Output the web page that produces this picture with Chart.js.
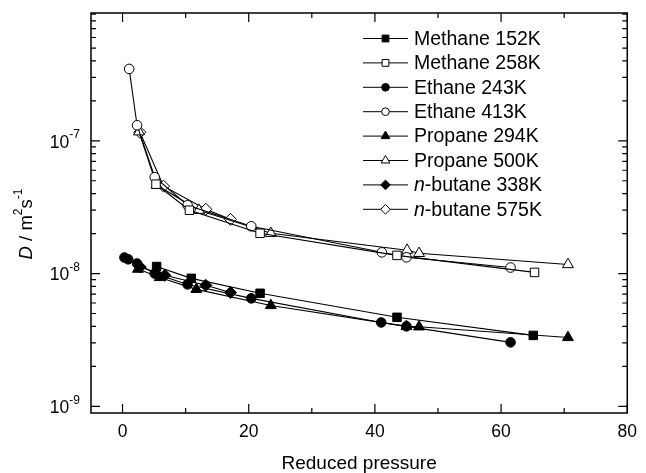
<!DOCTYPE html>
<html>
<head>
<meta charset="utf-8">
<script src="https://cdn.jsdelivr.net/npm/chart.js@4.4.1/dist/chart.umd.min.js"></script>
<style>
  html, body { margin: 0; padding: 0; background: #fff; }
  #wrap { width: 646px; height: 473px; }
</style>
</head>
<body>
<div id="wrap"><canvas id="diffusion"></canvas></div>
<script>
const FONT = '"Liberation Sans", Arial, Helvetica, sans-serif';

// self-diffusion coefficient D (m^2 s^-1) against reduced pressure
const methane152X = [5.4, 10.9, 21.8, 43.5, 65.1];
const methane152Y = [1.13e-8, 9.2e-9, 7.1e-9, 4.68e-9, 3.42e-9];
const methane258X = [5.3, 10.6, 21.8, 43.5, 65.3];
const methane258Y = [4.71e-8, 3.0e-8, 2.01e-8, 1.37e-8, 1.02e-8];
const ethane243X = [0.3, 0.9, 2.3, 5.1, 10.3, 20.4, 41.0, 45.0, 61.5];
const ethane243Y = [1.32e-8, 1.28e-8, 1.19e-8, 1.0e-8, 8.28e-9, 6.5e-9, 4.28e-9, 4.0e-9, 3.03e-9];
const ethane413X = [1.05, 2.3, 5.1, 10.3, 20.4, 41.1, 45.0, 61.5];
const ethane413Y = [3.48e-7, 1.31e-7, 5.32e-8, 3.27e-8, 2.27e-8, 1.445e-8, 1.325e-8, 1.11e-8];
const propane294X = [2.45, 5.9, 11.7, 23.5, 45.0, 47.0, 70.6];
const propane294Y = [1.08e-8, 9.35e-9, 7.6e-9, 5.75e-9, 4.0e-9, 3.97e-9, 3.3e-9];
const propane500X = [2.6, 5.4, 12.1, 23.5, 45.1, 47.0, 70.6];
const propane500Y = [1.17e-7, 4.64e-8, 3.0e-8, 2.01e-8, 1.5e-8, 1.42e-8, 1.17e-8];
const butane338X = [2.8, 6.7, 13.2, 17.1];
const butane338Y = [1.12e-8, 9.7e-9, 8.15e-9, 7.2e-9];
const butane575X = [2.75, 6.5, 13.2, 17.1];
const butane575Y = [1.16e-7, 4.55e-8, 3.05e-8, 2.56e-8];

const seriesLabels = ['Methane 152K', 'Methane 258K', 'Ethane 243K', 'Ethane 413K',
  'Propane 294K', 'Propane 500K', 'n-butane 338K', 'n-butane 575K'];

const xMajor = [0, 20, 40, 60, 80];
const xMinor = [10, 30, 50, 70];
const yMajor = [1e-9, 1e-8, 1e-7];
const yMinor = [];
[1e-9, 1e-8, 1e-7].forEach(d => { for (let m = 2; m <= 9; m++) yMinor.push(m * d); });

const zip = (xs, ys) => xs.map((x, i) => ({ x, y: ys[i] }));

function series(label, xs, ys, style, filled, r) {
  return {
    label,
    data: zip(xs, ys),
    showLine: true,
    borderColor: '#000',
    borderWidth: 1.1,
    pointStyle: style,
    pointRadius: r,
    pointBorderWidth: 1,
    pointBorderColor: '#000',
    pointBackgroundColor: filled ? '#000' : '#fff',
  };
}

const datasets = [
  series(seriesLabels[0], methane152X, methane152Y, 'rect', true, 6),
  series(seriesLabels[1], methane258X, methane258Y, 'rect', false, 6),
  series(seriesLabels[2], ethane243X, ethane243Y, 'circle', true, 4.8),
  series(seriesLabels[3], ethane413X, ethane413Y, 'circle', false, 4.8),
  series(seriesLabels[4], propane294X, propane294Y, 'triangle', true, 6.3),
  series(seriesLabels[5], propane500X, propane500Y, 'triangle', false, 6.3),
  series(seriesLabels[6], butane338X, butane338Y, 'rectRot', true, 6),
  series(seriesLabels[7], butane575X, butane575Y, 'rectRot', false, 6),
];

// frame, inward ticks on all four sides, 10^n labels and the rotated y title
const axisDecor = {
  id: 'axisDecor',
  afterDraw(chart) {
    const { ctx, chartArea: a, scales: { x, y } } = chart;
    ctx.save();
    ctx.strokeStyle = '#000';
    ctx.lineWidth = 1.5;
    ctx.strokeRect(a.left, a.top, a.right - a.left, a.bottom - a.top);

    ctx.lineWidth = 1.2;
    const tick = (px, len, horiz) => {
      ctx.beginPath();
      if (horiz) {
        ctx.moveTo(px, a.bottom); ctx.lineTo(px, a.bottom - len);
        ctx.moveTo(px, a.top); ctx.lineTo(px, a.top + len);
      } else {
        ctx.moveTo(a.left, px); ctx.lineTo(a.left + len, px);
        ctx.moveTo(a.right, px); ctx.lineTo(a.right - len, px);
      }
      ctx.stroke();
    };
    xMajor.forEach(v => tick(x.getPixelForValue(v), 9, true));
    xMinor.forEach(v => tick(x.getPixelForValue(v), 5, true));
    yMajor.forEach(v => tick(y.getPixelForValue(v), 9, false));
    yMinor.filter(v => v < y.max).forEach(v => tick(y.getPixelForValue(v), 5, false));

    ctx.fillStyle = '#000';
    ctx.textBaseline = 'middle';
    yMajor.forEach(v => {
      const py = y.getPixelForValue(v);
      const exp = String(Math.round(Math.log10(v)));
      ctx.font = '12px ' + FONT;
      ctx.textAlign = 'right';
      ctx.fillText(exp, 80, py - 6);
      const ew = ctx.measureText(exp).width;
      ctx.font = '17.5px ' + FONT;
      ctx.fillText('10', 80 - ew, py + 2);
    });

    // D / m2 s-1, written bottom to top
    const parts = [
      { t: 'D', f: 'italic 18.5px ', dy: 0 },
      { t: ' / m', f: '18.5px ', dy: 0 },
      { t: '2', f: '12px ', dy: -8 },
      { t: 's', f: '18.5px ', dy: 0 },
      { t: '-1', f: '12px ', dy: -8 },
    ];
    let total = 0;
    parts.forEach(p => { ctx.font = p.f + FONT; p.w = ctx.measureText(p.t).width; total += p.w; });
    ctx.translate(27, 224);
    ctx.rotate(-Math.PI / 2);
    ctx.textAlign = 'left';
    let cx = -total / 2;
    parts.forEach(p => {
      ctx.font = p.f + FONT;
      ctx.fillText(p.t, cx, p.dy);
      cx += p.w;
    });
    ctx.restore();
  }
};

// legend list in the upper right of the plot
const insideLegend = {
  id: 'insideLegend',
  afterDatasetsDraw(chart) {
    const { ctx } = chart;
    ctx.save();
    chart.data.datasets.forEach((ds, i) => {
      const y = 38.5 + i * 24.4;
      ctx.strokeStyle = '#000';
      ctx.lineWidth = 1;
      ctx.beginPath();
      ctx.moveTo(363, y);
      ctx.lineTo(408, y);
      ctx.stroke();
      ctx.fillStyle = ds.pointBackgroundColor;
      Chart.helpers.drawPoint(ctx, {
        pointStyle: ds.pointStyle, radius: ds.pointRadius * 0.8, rotation: 0, borderWidth: 1
      }, 385.5, y);

      ctx.fillStyle = '#000';
      ctx.textAlign = 'left';
      ctx.textBaseline = 'middle';
      let tx = 414;
      let text = ds.label;
      if (text.startsWith('n-')) {
        ctx.font = 'italic 19.5px ' + FONT;
        ctx.fillText('n', tx, y + 1);
        tx += ctx.measureText('n').width;
        text = text.slice(1);
      }
      ctx.font = '19.5px ' + FONT;
      ctx.fillText(text, tx, y + 1);
    });
    ctx.restore();
  }
};

new Chart(document.getElementById('diffusion'), {
  type: 'scatter',
  data: { datasets },
  options: {
    responsive: true,
    maintainAspectRatio: false,
    animation: false,
    layout: { padding: { top: 13, right: 12, left: 0, bottom: 0 } },
    plugins: {
      legend: { display: false },
      tooltip: { enabled: false },
    },
    scales: {
      x: {
        type: 'linear',
        min: -5,
        max: 80,
        grid: { display: false, drawTicks: false },
        border: { display: false },
        afterBuildTicks: s => { s.ticks = xMajor.map(v => ({ value: v })); },
        afterFit: s => { s.height = 60; },
        ticks: { color: '#000', padding: 9, font: { family: FONT, size: 17.5 } },
        title: {
          display: true,
          text: 'Reduced pressure',
          color: '#000',
          padding: { top: 0, bottom: -2 },
          font: { family: FONT, size: 19 },
        },
      },
      y: {
        type: 'logarithmic',
        min: 8.9e-10,
        max: 9.18e-7,
        grid: { display: false, drawTicks: false },
        border: { display: false },
        ticks: { display: false },
        afterFit: s => { s.width = 91; },
      },
    },
  },
  plugins: [axisDecor, insideLegend],
});
</script>
</body>
</html>
